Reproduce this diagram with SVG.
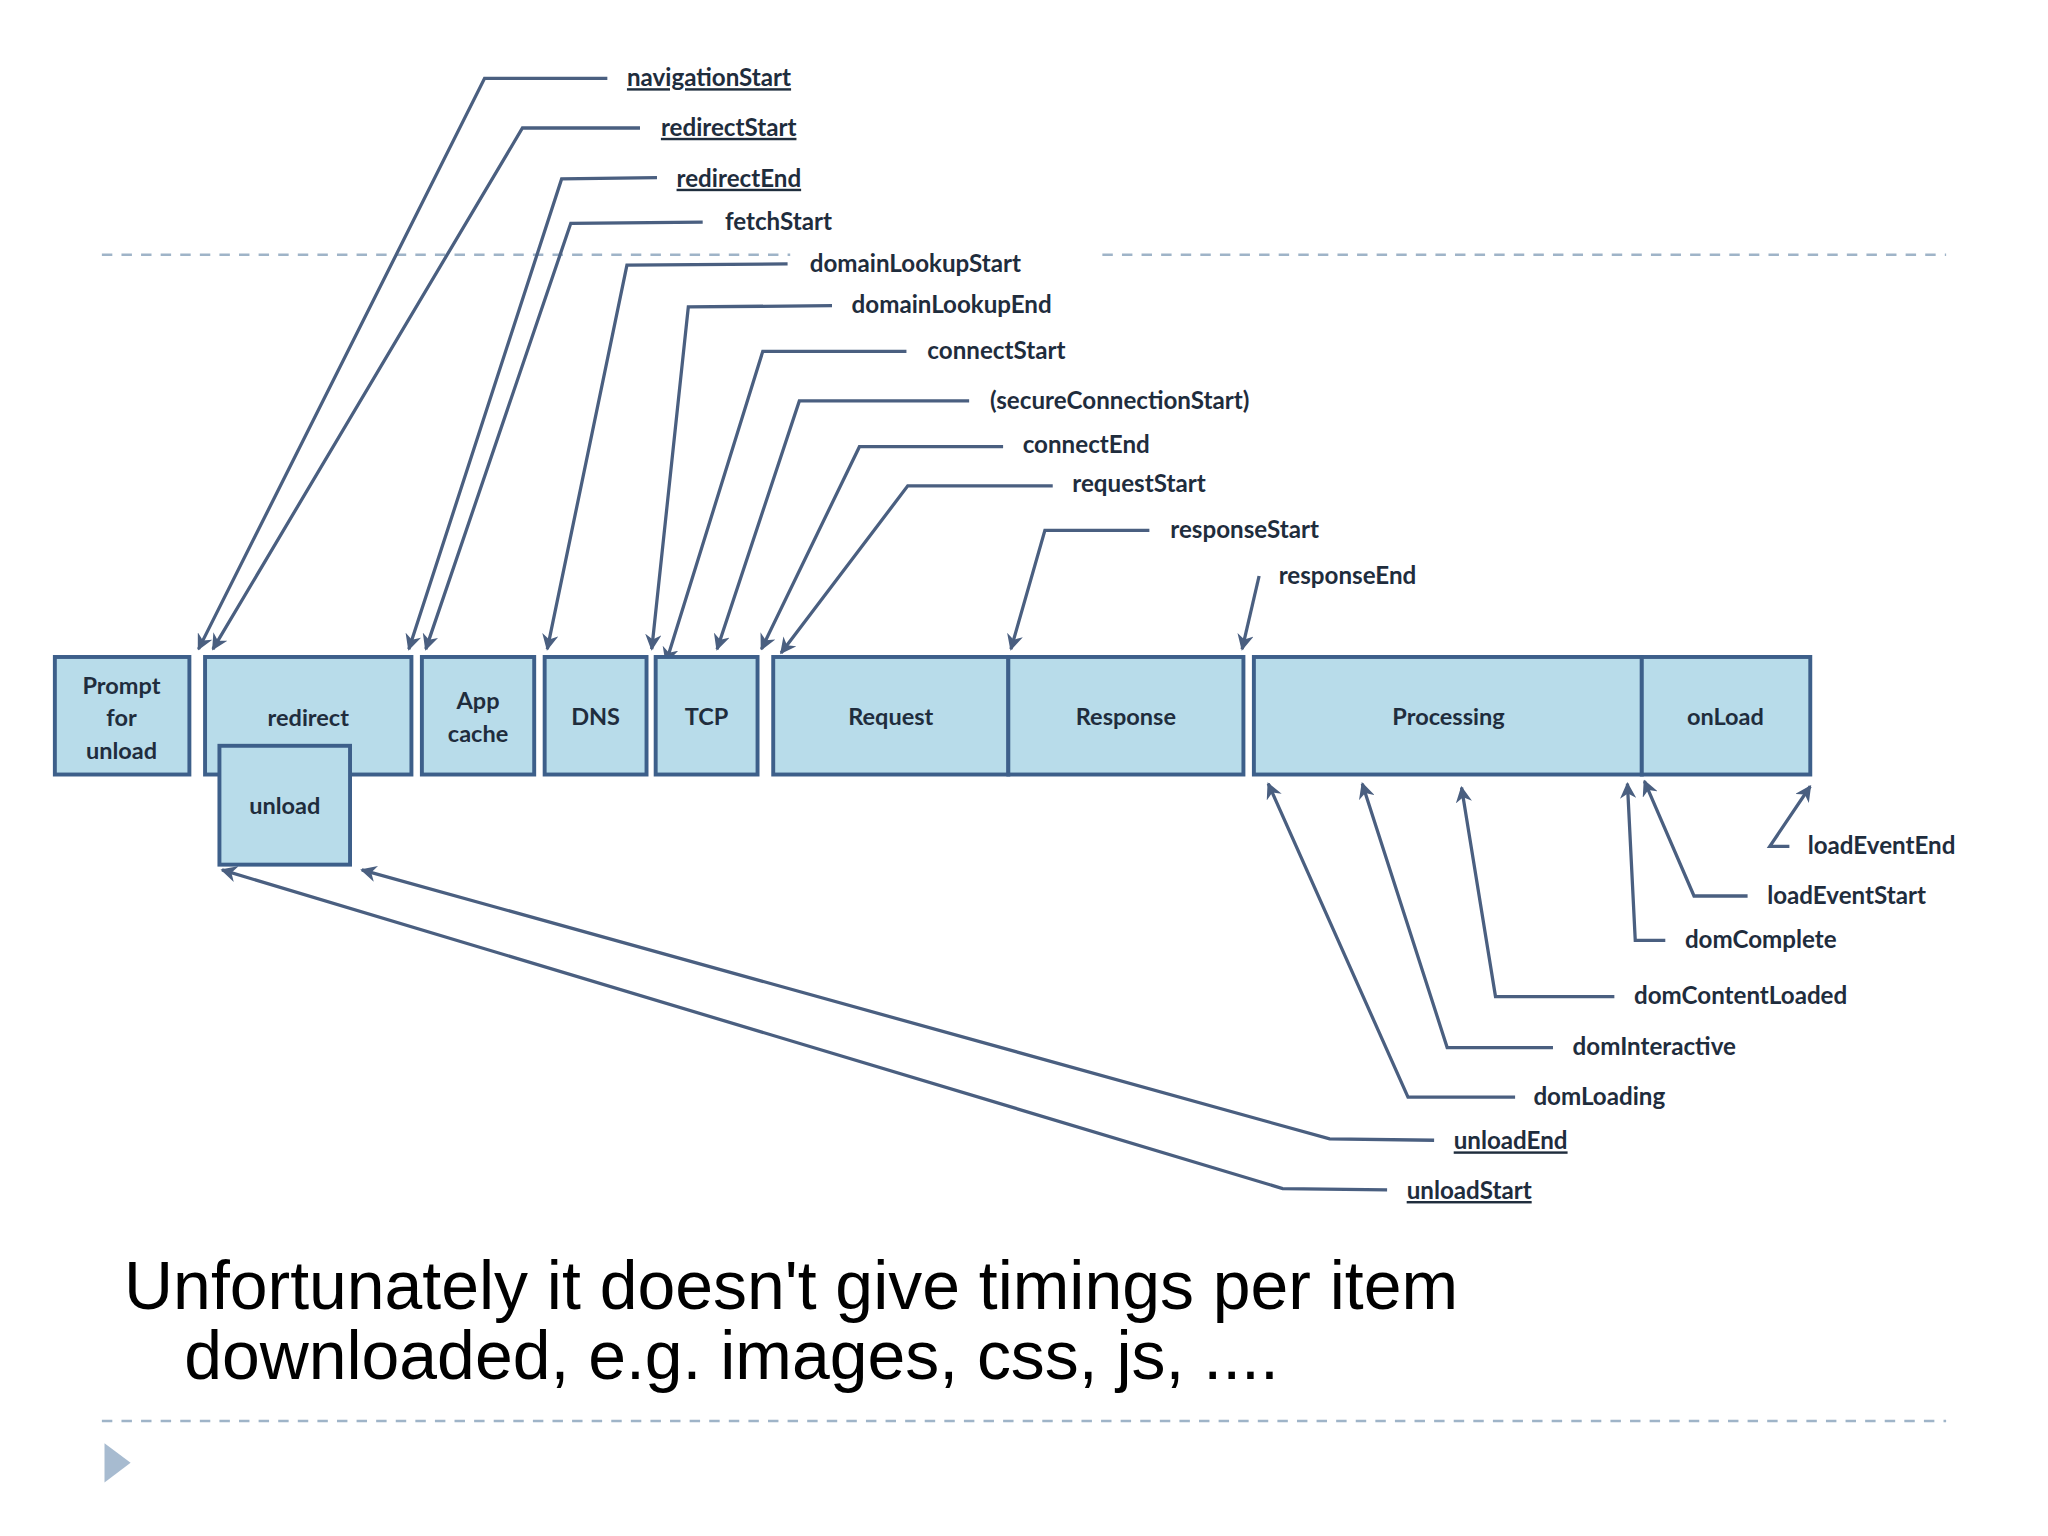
<svg xmlns="http://www.w3.org/2000/svg" width="2048" height="1536" viewBox="0 0 2048 1536">
<style>
.box{fill:#b8dcea;stroke:#3d5f8a;stroke-width:3}
.bt{font-family:Lato,"Open Sans",sans-serif;font-weight:bold;font-size:18px;fill:#1f2d3d;text-anchor:middle}
.lb{font-family:Lato,"Open Sans",sans-serif;font-weight:bold;font-size:18.5px;fill:#1f2d3d}
.u{text-decoration:underline}
.c{fill:none;stroke:#4a5f80;stroke-width:2.5;marker-end:url(#ah)}
.d{stroke:#9fb4c8;stroke-width:2;stroke-dasharray:8 7}
.big{font-family:"Liberation Sans",Arial,sans-serif;font-size:52px;fill:#000}
</style>
<defs>
<marker id="ah" viewBox="0 0 10 10" refX="9" refY="5" markerWidth="5" markerHeight="5" orient="auto" markerUnits="strokeWidth">
<path d="M0,0 L10,5 L0,10 L3,5 z" fill="#4a5f80"/>
</marker>
</defs>
<rect width="2048" height="1536" fill="#fff"/>
<g transform="scale(1.30612)">
<g id="decor">
<line class="d" x1="78" y1="195" x2="605" y2="195"/>
<line class="d" x1="844" y1="195" x2="1490" y2="195"/>
<line class="d" x1="78" y1="1088" x2="1490" y2="1088"/>
<path d="M80,1105 L100,1120 L80,1135 z" fill="#a7bbd0"/>
</g>
<g id="connectors">
<path class="c" d="M465,60 H371 L152,497"/>
<path class="c" d="M490,98 H400 L163,497"/>
<path class="c" d="M503,136 L430,137 L313,497"/>
<path class="c" d="M538,170 L437,171 L326,497"/>
<path class="c" d="M603,202 L480,203 L419,497"/>
<path class="c" d="M637,234 L527,235 L499,497"/>
<path class="c" d="M694,269 H584 L510,507"/>
<path class="c" d="M742,307 H612 L549,497"/>
<path class="c" d="M768,342 H658 L583,497"/>
<path class="c" d="M806,372 H695 L598,500"/>
<path class="c" d="M880,406 H800 L774,497"/>
<path class="c" d="M964,441 L951,497"/>
<path class="c" d="M1370,648 H1355 L1386,602"/>
<path class="c" d="M1338,686 H1297 L1259,598"/>
<path class="c" d="M1275,720 H1252 L1246,600"/>
<path class="c" d="M1236,763 H1145 L1119,603"/>
<path class="c" d="M1189,802 H1108 L1043,600"/>
<path class="c" d="M1160,840 H1078 L971,600"/>
<path class="c" d="M1098,873 L1018,872 L277,666"/>
<path class="c" d="M1062,911 L982,910 L170,666"/>
</g>
<g id="n-prompt"><rect class="box" x="42" y="503" width="103" height="90"/><text class="bt" x="93" y="531">Prompt</text><text class="bt" x="93" y="556">for</text><text class="bt" x="93" y="581">unload</text></g>
<g id="n-redirect"><rect class="box" x="157" y="503" width="158" height="90"/><text class="bt" x="236" y="556">redirect</text></g>
<g id="n-unload"><rect class="box" x="168" y="571" width="100" height="91"/><text class="bt" x="218" y="623">unload</text></g>
<g id="n-appcache"><rect class="box" x="323" y="503" width="86" height="90"/><text class="bt" x="366" y="543">App</text><text class="bt" x="366" y="568">cache</text></g>
<g id="n-dns"><rect class="box" x="417" y="503" width="78" height="90"/><text class="bt" x="456" y="555">DNS</text></g>
<g id="n-tcp"><rect class="box" x="502" y="503" width="78" height="90"/><text class="bt" x="541" y="555">TCP</text></g>
<g id="n-request"><rect class="box" x="592" y="503" width="180" height="90"/><text class="bt" x="682" y="555">Request</text></g>
<g id="n-response"><rect class="box" x="772" y="503" width="180" height="90"/><text class="bt" x="862" y="555">Response</text></g>
<g id="n-processing"><rect class="box" x="960" y="503" width="297" height="90"/><text class="bt" x="1109" y="555">Processing</text></g>
<g id="n-onload"><rect class="box" x="1257" y="503" width="129" height="90"/><text class="bt" x="1321" y="555">onLoad</text></g>
<g id="labels">
<text class="lb u" x="480" y="66">navigationStart</text>
<text class="lb u" x="506" y="104">redirectStart</text>
<text class="lb u" x="518" y="143">redirectEnd</text>
<text class="lb" x="555" y="176">fetchStart</text>
<text class="lb" x="620" y="208">domainLookupStart</text>
<text class="lb" x="652" y="240">domainLookupEnd</text>
<text class="lb" x="710" y="275">connectStart</text>
<text class="lb" x="758" y="313">(secureConnectionStart)</text>
<text class="lb" x="783" y="347">connectEnd</text>
<text class="lb" x="821" y="377">requestStart</text>
<text class="lb" x="896" y="412">responseStart</text>
<text class="lb" x="979" y="447">responseEnd</text>
<text class="lb" x="1384" y="654">loadEventEnd</text>
<text class="lb" x="1353" y="692">loadEventStart</text>
<text class="lb" x="1290" y="726">domComplete</text>
<text class="lb" x="1251" y="769">domContentLoaded</text>
<text class="lb" x="1204" y="808">domInteractive</text>
<text class="lb" x="1174" y="846">domLoading</text>
<text class="lb u" x="1113" y="880">unloadEnd</text>
<text class="lb u" x="1077" y="918">unloadStart</text>
</g>
<g id="caption">
<text class="big" x="95" y="1002">Unfortunately it doesn't give timings per item</text>
<text class="big" x="141" y="1056">downloaded, e.g. images, css, js, ....</text>
</g>
</g>
</svg>
